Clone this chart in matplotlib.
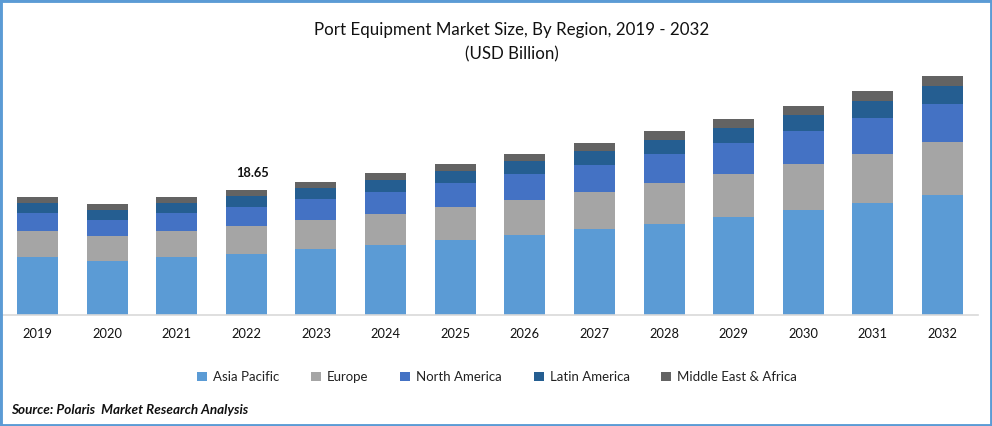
import matplotlib.pyplot as plt
from matplotlib.patches import Rectangle

plt.rcParams['font.family'] = ['Lato', 'DejaVu Sans']

years = [2019, 2020, 2021, 2022, 2023, 2024, 2025, 2026, 2027, 2028, 2029, 2030, 2031, 2032]
asia = [8.66, 8.06, 8.66, 9.10, 9.85, 10.45, 11.19, 11.94, 12.84, 13.58, 14.63, 15.67, 16.72, 17.91]
europe = [3.88, 3.73, 3.88, 4.18, 4.33, 4.63, 4.93, 5.22, 5.52, 6.12, 6.42, 6.87, 7.31, 7.91]
north_america = [2.69, 2.39, 2.69, 2.84, 3.13, 3.28, 3.58, 3.88, 4.03, 4.33, 4.63, 4.93, 5.37, 5.67]
latin_america = [1.49, 1.49, 1.49, 1.64, 1.64, 1.79, 1.79, 1.94, 2.09, 2.09, 2.24, 2.39, 2.54, 2.69]
mea = [0.90, 0.90, 0.90, 0.90, 0.90, 1.04, 1.04, 1.04, 1.19, 1.34, 1.34, 1.34, 1.49, 1.49]

regions = ['Asia Pacific', 'Europe', 'North America', 'Latin America', 'Middle East & Africa']
series = [asia, europe, north_america, latin_america, mea]
colors = ['#5b9bd5', '#a5a5a5', '#4472c4', '#255e91', '#636363']

W, H = 992, 426
fig = plt.figure(figsize=(W / 100, H / 100), dpi=100)
ax = fig.add_axes([2 / W, (H - 315) / H, 976 / W, 250 / H])

bottom = [0] * len(years)
x = list(range(len(years)))
for name, vals, c in zip(regions, series, colors):
    ax.bar(x, vals, 0.59, bottom=bottom, color=c, label=name)
    bottom = [b + v for b, v in zip(bottom, vals)]

ax.set_xlim(-0.51, 13.51)
ax.set_ylim(0, 37.3)
ax.set_xticks(x)
ax.set_xticklabels(years, fontsize=9.3, color='#111111')
ax.tick_params(axis='x', length=0, pad=9.7)
ax.set_yticks([])
for s in ['top', 'left', 'right']:
    ax.spines[s].set_visible(False)
ax.spines['bottom'].set_color('#d9d9d9')
ax.spines['bottom'].set_linewidth(1.2)

# only 2022 has a value label
ax.text(3.09, bottom[3] + 1.6, '18.65', ha='center', va='bottom', fontsize=9.3, fontweight='bold', color='#111111')

fig.text(512 / W, 1 - 30 / H, 'Port Equipment Market Size, By Region, 2019 - 2032', ha='center', va='center', fontsize=12.2, color='#111111')
fig.text(512 / W, 1 - 54 / H, '(USD Billion)', ha='center', va='center', fontsize=12.2, color='#111111')

fig.legend(loc='center', bbox_to_anchor=(497 / W, 1 - 377 / H), ncol=5, frameon=False, fontsize=9.55,
           handlelength=0.75, handleheight=0.75, handletextpad=0.45, columnspacing=2.4, labelcolor='#222222')

fig.text(11 / W, 1 - 410 / H, 'Source: Polaris  Market Research Analysis', ha='left', va='center', fontsize=9.7, fontweight='bold', fontstyle='italic', color='#111111')

fig.add_artist(Rectangle((0, 0), 1, 1, transform=fig.transFigure, fill=False, edgecolor='#5b9bd5', linewidth=3.5))

fig.savefig('out.png', dpi=100)
